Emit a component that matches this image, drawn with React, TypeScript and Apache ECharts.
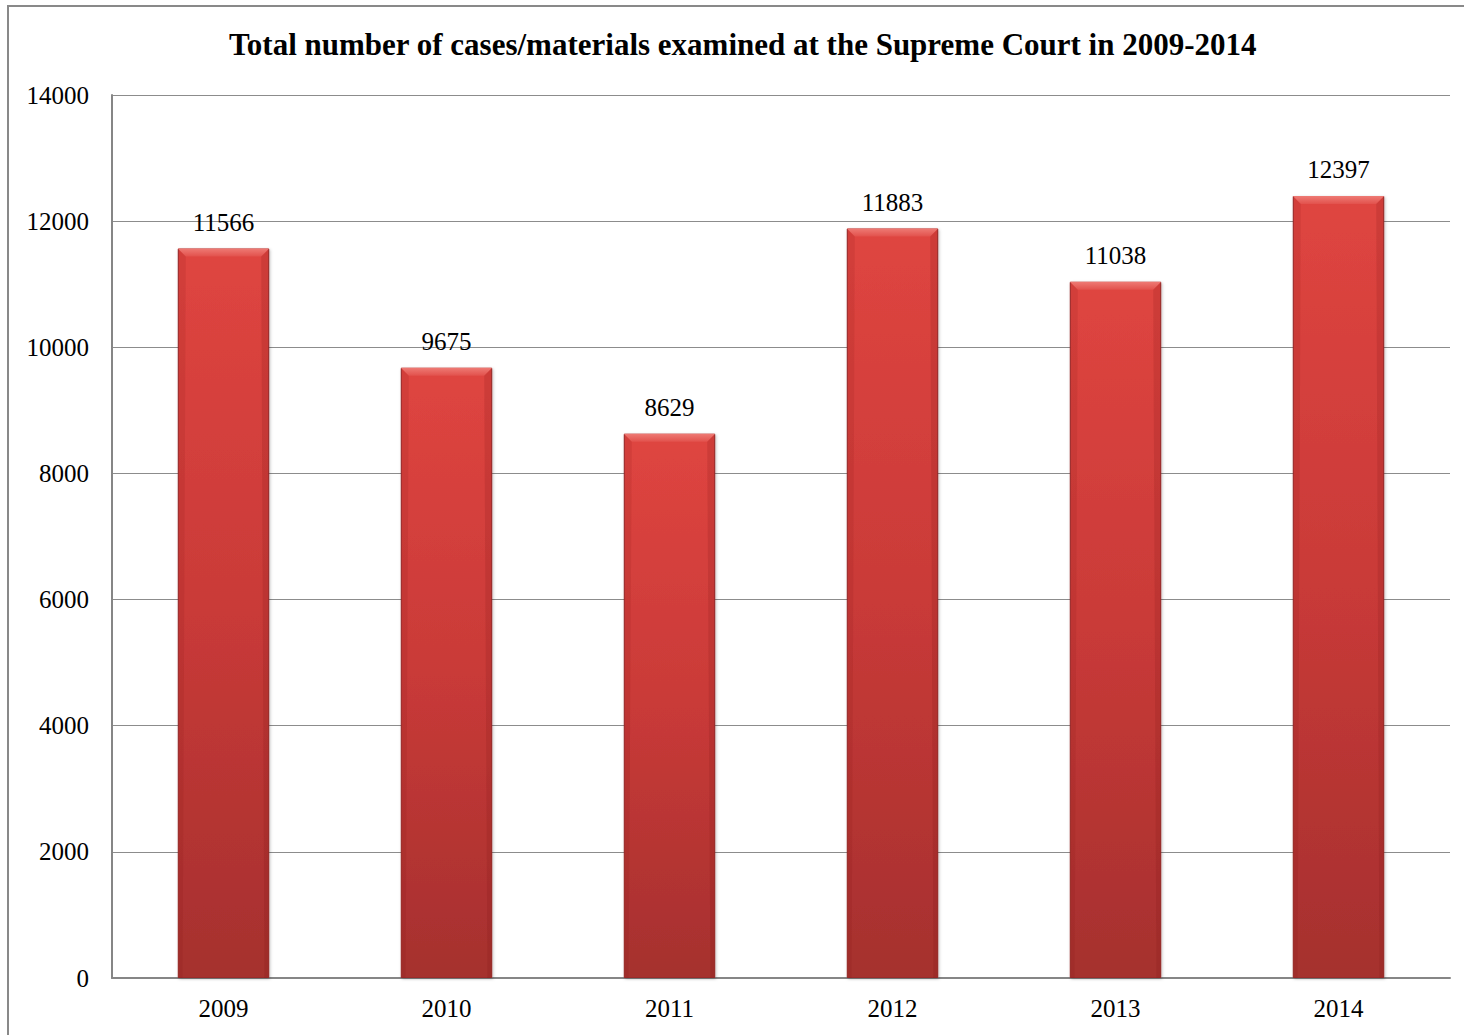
import React, { useEffect, useRef } from "react";
import * as echarts from "echarts";

const years = ["2009", "2010", "2011", "2012", "2013", "2014"];
const cases = [11566, 9675, 8629, 11883, 11038, 12397];
const yTicks = { min: 0, max: 14000, interval: 2000 };
const titleText = "Total number of cases/materials examined at the Supreme Court in 2009-2014";

const FONT = "Liberation Serif";
const BAR_RATIO = 0.41;

export default function App() {
  const ref = useRef<HTMLDivElement>(null);
  useEffect(() => {
    if (!ref.current) return;
    const chart = echarts.init(ref.current, undefined, { renderer: "svg" });
    chart.setOption({
      animation: false,
      backgroundColor: "#ffffff",
      textStyle: { fontFamily: FONT },
      title: {
        text: titleText,
        left: 229,
        top: 29,
        padding: 0,
        textStyle: { fontFamily: FONT, fontWeight: "bold", fontSize: 31, color: "#000" },
      },
      graphic: [
        {
          type: "rect",
          shape: { x: 8, y: 6, width: 1480, height: 1060 },
          style: { fill: "none", stroke: "#898989", lineWidth: 2 },
          silent: true,
        },
      ],
      grid: { left: 112, right: 14, top: 95, bottom: 57, containLabel: false },
      xAxis: {
        type: "category",
        data: years,
        axisLine: { show: true, lineStyle: { color: "#868686", width: 2 } },
        axisTick: { show: false },
        axisLabel: { fontFamily: FONT, fontSize: 25, color: "#000", margin: 18 },
      },
      yAxis: {
        type: "value",
        min: yTicks.min,
        max: yTicks.max,
        interval: yTicks.interval,
        axisLine: { show: true, lineStyle: { color: "#868686", width: 2 } },
        axisTick: { show: false },
        splitLine: { show: true, lineStyle: { color: "#8c8c8c", width: 1.2 } },
        axisLabel: {
          fontFamily: FONT,
          fontSize: 25,
          color: "#000",
          margin: 23,
          formatter: (v: number) => String(v),
        },
      },
      series: [
        {
          type: "bar",
          data: cases,
          barWidth: BAR_RATIO * 100 + "%",
          itemStyle: {
            color: new echarts.graphic.LinearGradient(0, 0, 0, 1, [
              { offset: 0, color: "#df4540" },
              { offset: 0.5, color: "#c93a38" },
              { offset: 1, color: "#a5302e" },
            ]),
            borderColor: "#9a2b29",
            borderWidth: 1,
            shadowColor: "rgba(0,0,0,0.25)",
            shadowBlur: 3,
            shadowOffsetX: 1,
            shadowOffsetY: 1,
          },
          label: {
            show: true,
            position: "top",
            distance: 14,
            fontFamily: FONT,
            fontSize: 25,
            color: "#000",
          },
          z: 2,
        },
        {
          type: "custom",
          data: cases.map((v, i) => [i, v]),
          z: 3,
          silent: true,
          renderItem: (params: any, api: any) => {
            const idx = api.value(0);
            const val = api.value(1);
            const top = api.coord([idx, val]);
            const base = api.coord([idx, 0]);
            const w = api.size([1, 0])[0] * BAR_RATIO;
            const x0 = top[0] - w / 2;
            const x1 = top[0] + w / 2;
            const y0 = top[1];
            const y1 = base[1];
            const b = 8;
            return {
              type: "group",
              children: [
                {
                  type: "polygon",
                  shape: { points: [[x0, y0], [x1, y0], [x1 - b, y0 + b], [x0 + b, y0 + b]] },
                  style: {
                    fill: new echarts.graphic.LinearGradient(0, 0, 0, 1, [
                      { offset: 0, color: "#ee7a74" },
                      { offset: 1, color: "#e2514c" },
                    ]),
                  },
                },
                {
                  type: "polygon",
                  shape: { points: [[x0, y0], [x0 + b, y0 + b], [x0 + b * 0.6, y1], [x0, y1]] },
                  style: { fill: "rgba(120,20,20,0.12)" },
                },
                {
                  type: "polygon",
                  shape: { points: [[x1, y0], [x1 - b, y0 + b], [x1 - b * 0.6, y1], [x1, y1]] },
                  style: { fill: "rgba(120,20,20,0.16)" },
                },
              ],
            };
          },
        },
      ],
    });
    return () => chart.dispose();
  }, []);
  return (
    <div
      ref={ref}
      style={{ position: "fixed", left: 0, top: 0, width: 1464, height: 1035 }}
    />
  );
}
